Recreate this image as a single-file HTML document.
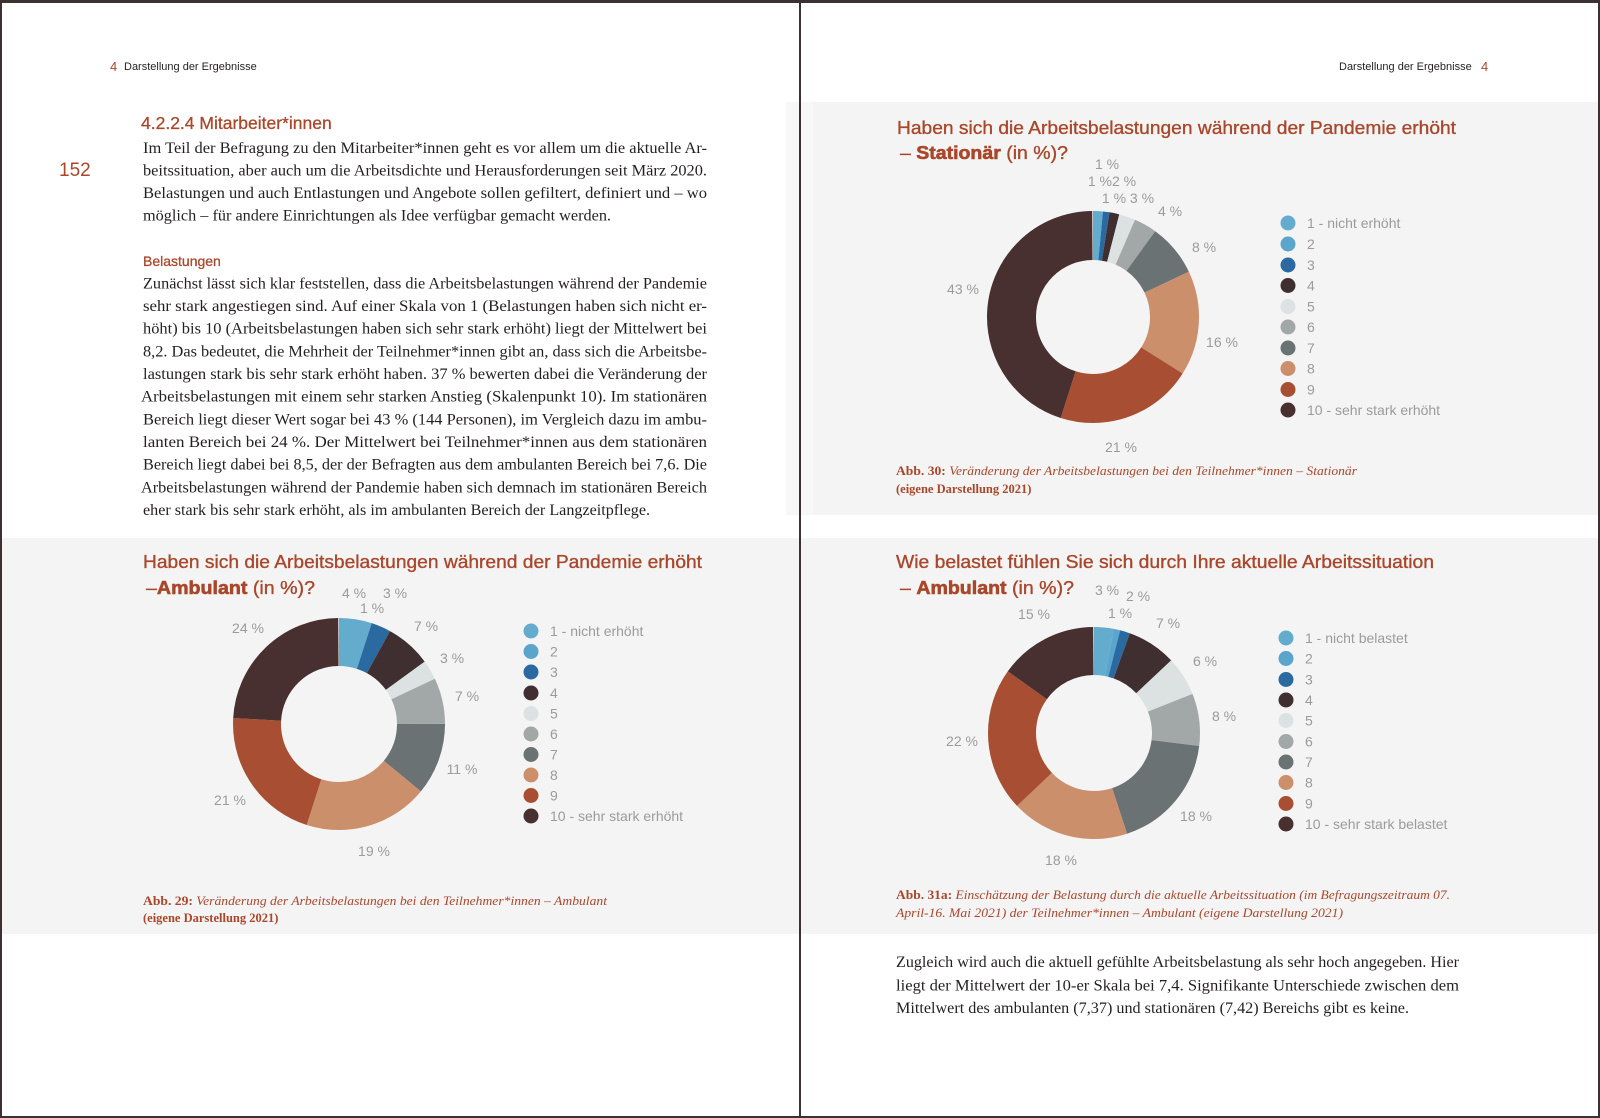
<!DOCTYPE html>
<html><head><meta charset="utf-8"><style>
html,body{margin:0;padding:0;background:#fff}
svg{display:block}
.ser{font-family:"Liberation Serif",serif;fill:#231f20;font-size:15.5px}
.sans{font-family:"Liberation Sans",sans-serif}
.t{font-family:"Liberation Sans",sans-serif;fill:#a9472b;font-size:18.5px;stroke:#a9472b;stroke-width:0.35}
.lab{font-family:"Liberation Sans",sans-serif;fill:#9b9b9b;font-size:14px;text-anchor:middle}
.leg{font-family:"Liberation Sans",sans-serif;fill:#9b9b9b;font-size:14px}
.cap{font-family:"Liberation Serif",serif;fill:#a9472b;font-size:12.5px}
</style></head><body>
<svg width="1600" height="1118" viewBox="0 0 1600 1118" xmlns="http://www.w3.org/2000/svg">
<rect width="1600" height="1118" fill="#fff"/>
<!-- panels -->
<rect x="786" y="102" width="27" height="413" fill="#f7f7f7"/>
<rect x="813" y="102" width="787" height="413" fill="#f4f4f4"/>
<rect x="2" y="538" width="797" height="396" fill="#f4f4f4"/>
<rect x="801" y="538" width="797" height="396" fill="#f4f4f4"/>
<!-- borders -->
<rect x="0" y="0" width="1600" height="3" fill="#3b3131"/>
<rect x="0" y="0" width="2" height="1118" fill="#3b3131"/>
<rect x="799" y="0" width="2" height="1118" fill="#3b3131"/>
<rect x="1598" y="0" width="2" height="1118" fill="#3b3131"/>
<rect x="0" y="1116" width="1600" height="2" fill="#3b3131"/>

<!-- headers -->
<text x="110" y="71" class="sans" font-size="13" fill="#a9472b">4</text>
<text x="124" y="70" class="sans" font-size="11" fill="#231f20">Darstellung der Ergebnisse</text>
<text x="1339" y="70" class="sans" font-size="11" fill="#231f20">Darstellung der Ergebnisse</text>
<text x="1481" y="71" class="sans" font-size="13" fill="#a9472b">4</text>

<text x="59" y="176" class="sans" font-size="19" fill="#a9472b">152</text>
<text x="141" y="129" class="sans" font-size="17.5" fill="#a9472b" stroke="#a9472b" stroke-width="0.3">4.2.2.4  Mitarbeiter*innen</text>

<text class="ser" x="143" y="153" textLength="564" lengthAdjust="spacingAndGlyphs">Im Teil der Befragung zu den Mitarbeiter*innen geht es vor allem um die aktuelle Ar-</text>
<text class="ser" x="143" y="175.5" textLength="564" lengthAdjust="spacingAndGlyphs">beitssituation, aber auch um die Arbeitsdichte und Herausforderungen seit März 2020.</text>
<text class="ser" x="143" y="198" textLength="564" lengthAdjust="spacingAndGlyphs">Belastungen und auch Entlastungen und Angebote sollen gefiltert, definiert und – wo</text>
<text class="ser" x="143" y="220.5" textLength="468" lengthAdjust="spacingAndGlyphs">möglich – für andere Einrichtungen als Idee verfügbar gemacht werden.</text>

<text x="143" y="266" class="sans" font-size="14" fill="#a9472b" stroke="#a9472b" stroke-width="0.3">Belastungen</text>
<g class="ser">
<text x="143" y="288.5" textLength="564" lengthAdjust="spacingAndGlyphs">Zunächst lässt sich klar feststellen, dass die Arbeitsbelastungen während der Pandemie</text>
<text x="143" y="311" textLength="564" lengthAdjust="spacingAndGlyphs">sehr stark angestiegen sind. Auf einer Skala von 1 (Belastungen haben sich nicht er-</text>
<text x="143" y="333.7" textLength="564" lengthAdjust="spacingAndGlyphs">höht) bis 10 (Arbeitsbelastungen haben sich sehr stark erhöht) liegt der Mittelwert bei</text>
<text x="143" y="356.3" textLength="564" lengthAdjust="spacingAndGlyphs">8,2. Das bedeutet, die Mehrheit der Teilnehmer*innen gibt an, dass sich die Arbeitsbe-</text>
<text x="143" y="379" textLength="564" lengthAdjust="spacingAndGlyphs">lastungen stark bis sehr stark erhöht haben. 37 % bewerten dabei die Veränderung der</text>
<text x="141" y="401.6" textLength="566" lengthAdjust="spacingAndGlyphs">Arbeitsbelastungen mit einem sehr starken Anstieg (Skalenpunkt 10). Im stationären</text>
<text x="143" y="424.3" textLength="564" lengthAdjust="spacingAndGlyphs">Bereich liegt dieser Wert sogar bei 43 % (144 Personen), im Vergleich dazu im ambu-</text>
<text x="143" y="447" textLength="564" lengthAdjust="spacingAndGlyphs">lanten Bereich bei 24 %. Der Mittelwert bei Teilnehmer*innen aus dem stationären</text>
<text x="143" y="469.6" textLength="564" lengthAdjust="spacingAndGlyphs">Bereich liegt dabei bei 8,5, der der Befragten aus dem ambulanten Bereich bei 7,6. Die</text>
<text x="141" y="492.3" textLength="566" lengthAdjust="spacingAndGlyphs">Arbeitsbelastungen während der Pandemie haben sich demnach im stationären Bereich</text>
<text x="143" y="515" textLength="507" lengthAdjust="spacingAndGlyphs">eher stark bis sehr stark erhöht, als im ambulanten Bereich der Langzeitpflege.</text>
</g>

<!-- ========== Stationär chart ========== -->
<text class="t" x="897" y="134" textLength="559" lengthAdjust="spacingAndGlyphs">Haben sich die Arbeitsbelastungen während der Pandemie erhöht</text>
<text class="t" x="900" y="159" textLength="168" lengthAdjust="spacingAndGlyphs">– <tspan font-weight="bold" stroke-width="0.6">Stationär</tspan> (in %)?</text>
<g transform="rotate(-90 1093 317)" fill="none" stroke-width="49">
<circle cx="1093" cy="317" r="81.5" pathLength="100" stroke="#63accd" stroke-dasharray="1.5 100" stroke-dashoffset="0"/>
<circle cx="1093" cy="317" r="81.5" pathLength="100" stroke="#2b6aa1" stroke-dasharray="1 100" stroke-dashoffset="-1.5"/>
<circle cx="1093" cy="317" r="81.5" pathLength="100" stroke="#3f2f31" stroke-dasharray="1.5 100" stroke-dashoffset="-2.5"/>
<circle cx="1093" cy="317" r="81.5" pathLength="100" stroke="#dce2e2" stroke-dasharray="2.5 100" stroke-dashoffset="-4"/>
<circle cx="1093" cy="317" r="81.5" pathLength="100" stroke="#a2a7a8" stroke-dasharray="3.5 100" stroke-dashoffset="-6.5"/>
<circle cx="1093" cy="317" r="81.5" pathLength="100" stroke="#6a7273" stroke-dasharray="8 100" stroke-dashoffset="-10"/>
<circle cx="1093" cy="317" r="81.5" pathLength="100" stroke="#cc8f6c" stroke-dasharray="16 100" stroke-dashoffset="-18"/>
<circle cx="1093" cy="317" r="81.5" pathLength="100" stroke="#a84f33" stroke-dasharray="21 100" stroke-dashoffset="-34"/>
<circle cx="1093" cy="317" r="81.5" pathLength="100" stroke="#47302f" stroke-dasharray="45 100" stroke-dashoffset="-55"/>
</g>
<g class="lab">
<text x="1107" y="169">1 %</text>
<text x="1112" y="186">1 %2 %</text>
<text x="1128" y="203">1 % 3 %</text>
<text x="1170" y="216">4 %</text>
<text x="1204" y="252">8 %</text>
<text x="1222" y="347">16 %</text>
<text x="1121" y="452">21 %</text>
<text x="963" y="294">43 %</text>
</g>
<g>
<circle cx="1288" cy="223" r="7.5" fill="#63accd"/>
<circle cx="1288" cy="244" r="7.5" fill="#5aa5cc"/>
<circle cx="1288" cy="265" r="7.5" fill="#2b6aa1"/>
<circle cx="1288" cy="285.5" r="7.5" fill="#3f2f31"/>
<circle cx="1288" cy="306.5" r="7.5" fill="#dce2e2"/>
<circle cx="1288" cy="327" r="7.5" fill="#a2a7a8"/>
<circle cx="1288" cy="348" r="7.5" fill="#6a7273"/>
<circle cx="1288" cy="368.5" r="7.5" fill="#cc8f6c"/>
<circle cx="1288" cy="389.5" r="7.5" fill="#a84f33"/>
<circle cx="1288" cy="410" r="7.5" fill="#47302f"/>
</g>
<g class="leg">
<text x="1307" y="228">1 - nicht erhöht</text><text x="1307" y="249">2</text><text x="1307" y="270">3</text><text x="1307" y="290.5">4</text><text x="1307" y="311.5">5</text><text x="1307" y="332">6</text><text x="1307" y="353">7</text><text x="1307" y="373.5">8</text><text x="1307" y="394.5">9</text><text x="1307" y="415">10 - sehr stark erhöht</text>
</g>
<text class="cap" x="896" y="475" textLength="461" lengthAdjust="spacingAndGlyphs"><tspan font-weight="bold">Abb. 30:</tspan> <tspan font-style="italic">Veränderung der Arbeitsbelastungen bei den Teilnehmer*innen – Stationär</tspan></text>
<text class="cap" x="896" y="493" font-weight="bold">(eigene Darstellung 2021)</text>

<!-- ========== Ambulant chart (left) ========== -->
<text class="t" x="143" y="568" textLength="559" lengthAdjust="spacingAndGlyphs">Haben sich die Arbeitsbelastungen während der Pandemie erhöht</text>
<text class="t" x="146" y="594" textLength="169" lengthAdjust="spacingAndGlyphs">–<tspan font-weight="bold" stroke-width="0.6">Ambulant</tspan> (in %)?</text>
<g transform="rotate(-90 339 724)" fill="none" stroke-width="48">
<circle cx="339" cy="724" r="82" pathLength="100" stroke="#63accd" stroke-dasharray="5 100" stroke-dashoffset="0"/>
<circle cx="339" cy="724" r="82" pathLength="100" stroke="#2b6aa1" stroke-dasharray="3 100" stroke-dashoffset="-5"/>
<circle cx="339" cy="724" r="82" pathLength="100" stroke="#3f2f31" stroke-dasharray="7 100" stroke-dashoffset="-8"/>
<circle cx="339" cy="724" r="82" pathLength="100" stroke="#dce2e2" stroke-dasharray="3 100" stroke-dashoffset="-15"/>
<circle cx="339" cy="724" r="82" pathLength="100" stroke="#a2a7a8" stroke-dasharray="7 100" stroke-dashoffset="-18"/>
<circle cx="339" cy="724" r="82" pathLength="100" stroke="#6a7273" stroke-dasharray="11 100" stroke-dashoffset="-25"/>
<circle cx="339" cy="724" r="82" pathLength="100" stroke="#cc8f6c" stroke-dasharray="19 100" stroke-dashoffset="-36"/>
<circle cx="339" cy="724" r="82" pathLength="100" stroke="#a84f33" stroke-dasharray="21 100" stroke-dashoffset="-55"/>
<circle cx="339" cy="724" r="82" pathLength="100" stroke="#47302f" stroke-dasharray="24 100" stroke-dashoffset="-76"/>
</g>
<g class="lab">
<text x="354" y="598">4 %</text>
<text x="395" y="598">3 %</text>
<text x="372" y="613">1 %</text>
<text x="426" y="631">7 %</text>
<text x="452" y="663">3 %</text>
<text x="467" y="701">7 %</text>
<text x="462" y="774">11 %</text>
<text x="374" y="856">19 %</text>
<text x="230" y="805">21 %</text>
<text x="248" y="633">24 %</text>
</g>
<g>
<circle cx="531" cy="631" r="7.5" fill="#63accd"/>
<circle cx="531" cy="651.5" r="7.5" fill="#5aa5cc"/>
<circle cx="531" cy="672" r="7.5" fill="#2b6aa1"/>
<circle cx="531" cy="693" r="7.5" fill="#3f2f31"/>
<circle cx="531" cy="713.5" r="7.5" fill="#dce2e2"/>
<circle cx="531" cy="734" r="7.5" fill="#a2a7a8"/>
<circle cx="531" cy="754.5" r="7.5" fill="#6a7273"/>
<circle cx="531" cy="775" r="7.5" fill="#cc8f6c"/>
<circle cx="531" cy="795.5" r="7.5" fill="#a84f33"/>
<circle cx="531" cy="816" r="7.5" fill="#47302f"/>
</g>
<g class="leg">
<text x="550" y="636">1 - nicht erhöht</text><text x="550" y="656.5">2</text><text x="550" y="677">3</text><text x="550" y="698">4</text><text x="550" y="718.5">5</text><text x="550" y="739">6</text><text x="550" y="759.5">7</text><text x="550" y="780">8</text><text x="550" y="800.5">9</text><text x="550" y="821">10 - sehr stark erhöht</text>
</g>
<text class="cap" x="143" y="905" textLength="464" lengthAdjust="spacingAndGlyphs"><tspan font-weight="bold">Abb. 29:</tspan> <tspan font-style="italic">Veränderung der Arbeitsbelastungen bei den Teilnehmer*innen – Ambulant</tspan></text>
<text class="cap" x="143" y="922" font-weight="bold">(eigene Darstellung 2021)</text>

<!-- ========== Belastet chart (right) ========== -->
<text class="t" x="896" y="568" textLength="538" lengthAdjust="spacingAndGlyphs">Wie belastet fühlen Sie sich durch Ihre aktuelle Arbeitssituation</text>
<text class="t" x="900" y="594" textLength="174" lengthAdjust="spacingAndGlyphs">– <tspan font-weight="bold" stroke-width="0.6">Ambulant</tspan> (in %)?</text>
<g transform="rotate(-90 1094 733)" fill="none" stroke-width="48">
<circle cx="1094" cy="733" r="82" pathLength="100" stroke="#63accd" stroke-dasharray="3 100" stroke-dashoffset="0"/>
<circle cx="1094" cy="733" r="82" pathLength="100" stroke="#5aa5cc" stroke-dasharray="2 100" stroke-dashoffset="-3"/>
<circle cx="1094" cy="733" r="82" pathLength="100" stroke="#2b6aa1" stroke-dasharray="1.5 100" stroke-dashoffset="-4"/>
<circle cx="1094" cy="733" r="82" pathLength="100" stroke="#3f2f31" stroke-dasharray="7.5 100" stroke-dashoffset="-5.5"/>
<circle cx="1094" cy="733" r="82" pathLength="100" stroke="#dce2e2" stroke-dasharray="6 100" stroke-dashoffset="-13"/>
<circle cx="1094" cy="733" r="82" pathLength="100" stroke="#a2a7a8" stroke-dasharray="8 100" stroke-dashoffset="-19"/>
<circle cx="1094" cy="733" r="82" pathLength="100" stroke="#6a7273" stroke-dasharray="18 100" stroke-dashoffset="-27"/>
<circle cx="1094" cy="733" r="82" pathLength="100" stroke="#cc8f6c" stroke-dasharray="18 100" stroke-dashoffset="-45"/>
<circle cx="1094" cy="733" r="82" pathLength="100" stroke="#a84f33" stroke-dasharray="22 100" stroke-dashoffset="-63"/>
<circle cx="1094" cy="733" r="82" pathLength="100" stroke="#47302f" stroke-dasharray="15 100" stroke-dashoffset="-85"/>
</g>
<g class="lab">
<text x="1107" y="595">3 %</text>
<text x="1138" y="601">2 %</text>
<text x="1120" y="618">1 %</text>
<text x="1168" y="628">7 %</text>
<text x="1205" y="666">6 %</text>
<text x="1224" y="721">8 %</text>
<text x="1196" y="821">18 %</text>
<text x="1061" y="865">18 %</text>
<text x="962" y="746">22 %</text>
<text x="1034" y="619">15 %</text>
</g>
<g>
<circle cx="1286" cy="638" r="7.5" fill="#63accd"/>
<circle cx="1286" cy="658.5" r="7.5" fill="#5aa5cc"/>
<circle cx="1286" cy="679.5" r="7.5" fill="#2b6aa1"/>
<circle cx="1286" cy="700" r="7.5" fill="#3f2f31"/>
<circle cx="1286" cy="720.5" r="7.5" fill="#dce2e2"/>
<circle cx="1286" cy="741.5" r="7.5" fill="#a2a7a8"/>
<circle cx="1286" cy="762" r="7.5" fill="#6a7273"/>
<circle cx="1286" cy="782.5" r="7.5" fill="#cc8f6c"/>
<circle cx="1286" cy="803.5" r="7.5" fill="#a84f33"/>
<circle cx="1286" cy="824" r="7.5" fill="#47302f"/>
</g>
<g class="leg">
<text x="1305" y="643">1 - nicht belastet</text><text x="1305" y="663.5">2</text><text x="1305" y="684.5">3</text><text x="1305" y="705">4</text><text x="1305" y="725.5">5</text><text x="1305" y="746.5">6</text><text x="1305" y="767">7</text><text x="1305" y="787.5">8</text><text x="1305" y="808.5">9</text><text x="1305" y="829">10 - sehr stark belastet</text>
</g>
<text class="cap" x="896" y="899" textLength="554" lengthAdjust="spacingAndGlyphs"><tspan font-weight="bold">Abb. 31a:</tspan> <tspan font-style="italic">Einschätzung der Belastung durch die aktuelle Arbeitssituation (im Befragungszeitraum 07.</tspan></text>
<text class="cap" x="896" y="917" font-style="italic" textLength="447" lengthAdjust="spacingAndGlyphs">April-16. Mai 2021) der Teilnehmer*innen – Ambulant (eigene Darstellung 2021)</text>

<g class="ser">
<text x="896" y="967" textLength="563" lengthAdjust="spacingAndGlyphs">Zugleich wird auch die aktuell gefühlte Arbeitsbelastung als sehr hoch angegeben. Hier</text>
<text x="896" y="990.5" textLength="563" lengthAdjust="spacingAndGlyphs">liegt der Mittelwert der 10-er Skala bei 7,4. Signifikante Unterschiede zwischen dem</text>
<text x="896" y="1013" textLength="513" lengthAdjust="spacingAndGlyphs">Mittelwert des ambulanten (7,37) und stationären (7,42) Bereichs gibt es keine.</text>
</g>
</svg>
</body></html>
